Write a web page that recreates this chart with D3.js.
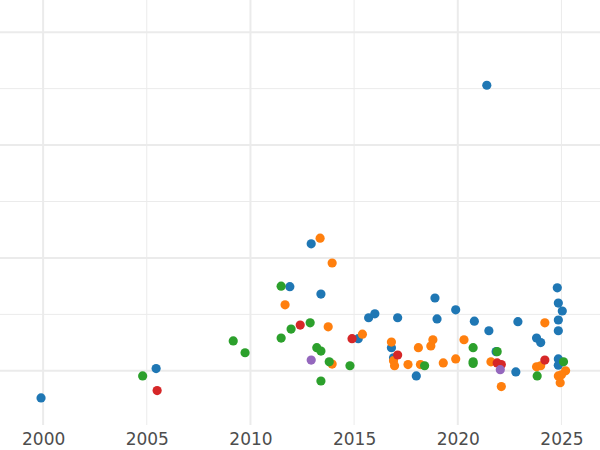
<!DOCTYPE html>
<html><head><meta charset="utf-8">
<script src="https://cdn.jsdelivr.net/npm/d3@7"></script>
<style>body{margin:0;background:#fff}</style>
</head><body>
<svg id="chart" width="600" height="450"></svg>
<script>
var xTicks = [2000, 2005, 2010, 2015, 2020, 2025];
var groups = ["A", "B", "C", "D", "E"];
var colors = ["#1f77b4", "#ff7f0e", "#2ca02c", "#d62728", "#9467bd"];
var seriesA = [[1999.9,-0.48],[2005.45,0.04],[2012.93,2.25],[2011.9,1.49],[2013.4,1.36],[2021.4,5.06],[2015.2,0.57],[2015.7,0.94],[2016.0,1.01],[2016.8,0.41],[2016.9,0.23],[2017.1,0.94],[2018.0,-0.09],[2018.9,1.29],[2019.0,0.92],[2019.9,1.08],[2020.8,0.88],[2021.5,0.71],[2021.85,0.34],[2022.8,-0.02],[2022.9,0.87],[2023.8,0.58],[2024.0,0.5],[2024.8,1.47],[2024.85,1.2],[2025.04,1.06],[2024.85,0.9],[2024.85,0.71],[2024.85,0.21],[2024.85,0.1]];
var seriesB = [[2013.36,2.35],[2013.94,1.91],[2011.67,1.17],[2013.75,0.78],[2013.94,0.12],[2015.4,0.65],[2016.8,0.51],[2016.9,0.18],[2016.95,0.09],[2017.6,0.11],[2018.1,0.41],[2018.2,0.11],[2018.7,0.44],[2018.8,0.55],[2019.3,0.14],[2019.9,0.21],[2020.3,0.55],[2021.6,0.16],[2022.1,-0.28],[2023.8,0.07],[2024.0,0.09],[2024.2,0.85],[2024.85,-0.09],[2024.94,-0.21],[2025.2,0],[2025.0,-0.07]];
var seriesC = [[2004.8,-0.09],[2009.17,0.53],[2009.74,0.32],[2011.48,1.5],[2011.48,0.58],[2011.96,0.74],[2012.88,0.85],[2013.2,0.41],[2013.4,0.35],[2013.8,0.16],[2013.4,-0.18],[2014.8,0.09],[2018.4,0.09],[2020.74,0.41],[2020.74,0.16],[2020.74,0.13],[2021.9,0.34],[2023.83,-0.09],[2025.1,0.16]];
var seriesD = [[2005.5,-0.35],[2012.4,0.81],[2014.9,0.57],[2017.1,0.28],[2021.9,0.14],[2022.1,0.11],[2024.2,0.19]];
var seriesE = [[2012.93,0.19],[2022.05,0.02]];
var allSeries = [seriesA, seriesB, seriesC, seriesD, seriesE];

var svg = d3.select("#chart");
var x = d3.scaleLinear().domain([1997.92, 2026.86]).range([0, 600]);
var y = d3.scaleLinear().domain([-0.96, 6.57]).range([425, 0]);

var grid = svg.append("g");
// minor and major grid
grid.selectAll(".vx").data(xTicks).enter().append("line")
    .attr("x1", function(d) { return x(d); }).attr("x2", function(d) { return x(d); })
    .attr("y1", 0).attr("y2", 425)
    .attr("stroke", "#ebebeb").attr("stroke-width", function(d) { return d % 10 === 0 ? 2 : 1; });
var yLines = d3.range(0, 7, 1);
grid.selectAll(".hy").data(yLines).enter().append("line")
    .attr("x1", 0).attr("x2", 600)
    .attr("y1", function(d) { return y(d); }).attr("y2", function(d) { return y(d); })
    .attr("stroke", "#ebebeb").attr("stroke-width", function(d) { return d % 2 === 0 ? 2 : 1; });

var axis = svg.append("g").attr("transform", "translate(0,425)")
    .call(d3.axisBottom(x).tickValues(xTicks).tickFormat(d3.format("d")).tickSize(0).tickPadding(8));
axis.select(".domain").remove();
axis.selectAll("text").attr("font-family", "DejaVu Sans, sans-serif").attr("font-size", 17).attr("fill", "#4d4d4d");

allSeries.forEach(function(s, i) {
    svg.append("g").selectAll("circle").data(s).enter().append("circle")
        .attr("cx", function(d) { return x(d[0]); })
        .attr("cy", function(d) { return y(d[1]); })
        .attr("r", 4.6)
        .attr("fill", colors[i]);
});
</script>
</body></html>
